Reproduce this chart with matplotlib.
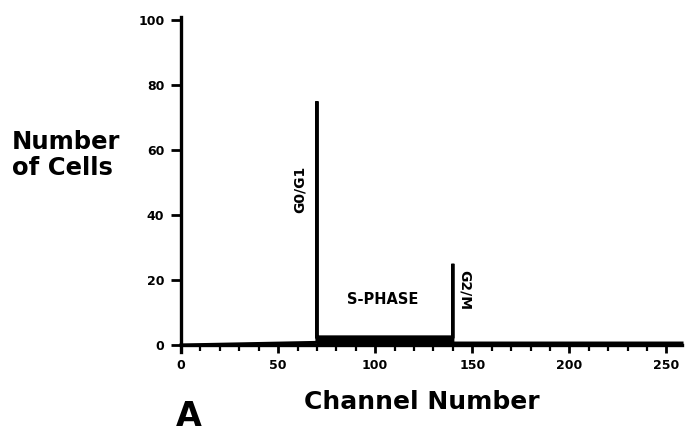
import matplotlib
matplotlib.use("Agg")
import matplotlib.pyplot as plt
from matplotlib.ticker import MultipleLocator

# histogram outline (channel vs number of cells)
channel = [0, 70, 70, 70, 140, 140, 140, 258]
cells = [0, 0.8, 75, 2.5, 2.5, 25, 0.6, 0.6]

x_ticks = [0, 50, 100, 150, 200, 250]
y_ticks = [0, 20, 40, 60, 80, 100]

# peak / region labels: (text, x, y, rotation, size)
labels = [
    ("G0/G1", 61, 48, 90, 10),
    ("S-PHASE", 104, 14, 0, 10.5),
    ("G2/M", 146, 17, -90, 10),
]

plt.rcParams["font.family"] = ["DejaVu Sans"]
plt.rcParams["font.weight"] = "bold"

fig = plt.figure(figsize=(6.9, 4.34), dpi=100)
ax = fig.add_axes([181 / 690, 1 - 345 / 434, 501 / 690, 325 / 434])

ax.plot(channel, cells, color="black", lw=2.2, solid_joinstyle="miter", clip_on=False)
ax.fill_between(channel, 0, cells, where=[70 <= c <= 140 for c in channel],
                color="black", lw=0)

ax.set_xlim(0, 258)
ax.set_ylim(0, 100)

for side in ["top", "right"]:
    ax.spines[side].set_visible(False)
for side in ["left", "bottom"]:
    ax.spines[side].set_linewidth(2.4)
ax.spines["left"].set_bounds(-2, 101)

ax.set_xticks(x_ticks)
ax.set_yticks(y_ticks)
ax.xaxis.set_minor_locator(MultipleLocator(10))
ax.tick_params(axis="x", which="major", direction="out", length=6, width=2,
               labelsize=9, pad=4)
ax.tick_params(axis="x", which="minor", direction="out", length=4, width=1.6)
ax.tick_params(axis="y", which="major", direction="out", length=7, width=2,
               labelsize=9, pad=5)
for lab in ax.get_xticklabels() + ax.get_yticklabels():
    lab.set_fontweight("bold")

for text, x, y, rot, size in labels:
    ax.text(x, y, text, rotation=rot, fontsize=size, fontweight="bold",
            ha="center", va="center")

fig.text(12 / 690, 1 - 155 / 434, "Number\nof Cells", fontsize=17.5,
         fontweight="bold", ha="left", va="center", linespacing=1.1)
fig.text(422 / 690, 1 - 402 / 434, "Channel Number", fontsize=18,
         fontweight="bold", ha="center", va="center")
fig.text(189 / 690, 1 - 417 / 434, "A", fontsize=24,
         fontweight="bold", ha="center", va="center")

fig.savefig("out.png", dpi=100)
